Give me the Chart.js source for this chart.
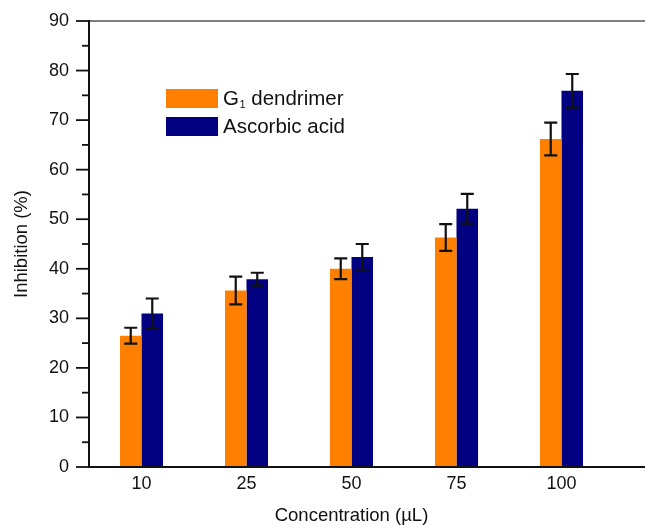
<!DOCTYPE html>
<html>
<head>
<meta charset="utf-8">
<script src="https://cdn.jsdelivr.net/npm/chart.js@4"></script>
<style>
  html, body { margin: 0; padding: 0; background: #fff; }
  #wrap { width: 645px; height: 525px; }
</style>
</head>
<body>
<div id="wrap"><canvas id="inhibitionChart" width="645" height="525"></canvas></div>
<script>
const concentrations = ['10', '25', '50', '75', '100'];
const dendrimerValues = [26.5, 35.6, 40.0, 46.3, 66.2];
const dendrimerErrors = [1.6, 2.8, 2.1, 2.7, 3.3];
const ascorbicValues = [31.0, 37.9, 42.4, 52.1, 75.9];
const ascorbicErrors = [3.0, 1.3, 2.6, 3.0, 3.4];
const yTicks = [0, 10, 20, 30, 40, 50, 60, 70, 80, 90];

const FONT = "'Liberation Sans', Arial, sans-serif";

// Error bars drawn on top of the bars
const errorBars = {
    id: 'errorBars',
    afterDatasetsDraw(chart) {
        const ctx = chart.ctx;
        const y = chart.scales.y;
        ctx.save();
        ctx.strokeStyle = '#111';
        ctx.lineWidth = 2.2;
        chart.data.datasets.forEach((ds, i) => {
            const meta = chart.getDatasetMeta(i);
            meta.data.forEach((bar, j) => {
                const v = ds.data[j], e = ds.errors[j];
                const top = y.getPixelForValue(v + e);
                const bot = y.getPixelForValue(v - e);
                ctx.beginPath();
                ctx.moveTo(bar.x, top); ctx.lineTo(bar.x, bot);
                ctx.moveTo(bar.x - 6.5, top); ctx.lineTo(bar.x + 6.5, top);
                ctx.moveTo(bar.x - 6.5, bot); ctx.lineTo(bar.x + 6.5, bot);
                ctx.stroke();
            });
        });
        ctx.restore();
    }
};

// Axis lines, minor ticks, top frame and the legend box
const frame = {
    id: 'frame',
    afterDraw(chart) {
        const ctx = chart.ctx;
        const area = chart.chartArea;
        const y = chart.scales.y;
        const w = chart.width;
        ctx.save();
        // top frame line runs to the edge
        ctx.strokeStyle = '#555';
        ctx.lineWidth = 1.5;
        ctx.beginPath();
        ctx.moveTo(area.left, area.top); ctx.lineTo(w, area.top);
        ctx.stroke();
        // y axis and x axis
        ctx.strokeStyle = '#111';
        ctx.lineWidth = 2;
        ctx.beginPath();
        ctx.moveTo(area.left, area.top - 1); ctx.lineTo(area.left, area.bottom);
        ctx.lineTo(w, area.bottom);
        ctx.stroke();
        // ticks, every 5 with long ones every 10
        ctx.lineWidth = 1.8;
        for (let v = 0; v <= 90; v += 5) {
            const py = y.getPixelForValue(v);
            const len = v % 10 === 0 ? 13 : 7;
            ctx.beginPath();
            ctx.moveTo(area.left - len, py); ctx.lineTo(area.left, py);
            ctx.stroke();
        }
        // legend
        const items = [
            { color: chart.data.datasets[0].backgroundColor, main: 'G', sub: '1', rest: ' dendrimer' },
            { color: chart.data.datasets[1].backgroundColor, main: 'Ascorbic acid', sub: '', rest: '' }
        ];
        ctx.textBaseline = 'middle';
        items.forEach((it, i) => {
            const top = 89 + i * 28;
            ctx.fillStyle = it.color;
            ctx.fillRect(166, top, 52, 19);
            ctx.fillStyle = '#111';
            ctx.font = '20.5px ' + FONT;
            let x = 223;
            const cy = top + 10;
            ctx.fillText(it.main, x, cy);
            x += ctx.measureText(it.main).width;
            if (it.sub) {
                ctx.font = '11px ' + FONT;
                ctx.fillText(it.sub, x + 0.5, cy + 6);
                x += ctx.measureText(it.sub).width + 0.5;
                ctx.font = '20.5px ' + FONT;
                ctx.fillText(it.rest, x, cy);
            }
        });
        ctx.restore();
    }
};

new Chart(document.getElementById('inhibitionChart').getContext('2d'), {
    type: 'bar',
    data: {
        labels: concentrations,
        datasets: [
            {
                label: 'G1 dendrimer',
                data: dendrimerValues,
                errors: dendrimerErrors,
                backgroundColor: '#ff8000',
                barPercentage: 1,
                categoryPercentage: 0.41
            },
            {
                label: 'Ascorbic acid',
                data: ascorbicValues,
                errors: ascorbicErrors,
                backgroundColor: '#000080',
                barPercentage: 1,
                categoryPercentage: 0.41
            }
        ]
    },
    options: {
        responsive: false,
        animation: false,
        layout: { padding: { top: 21, right: 31, left: 0, bottom: 0 } },
        plugins: {
            legend: { display: false },
            tooltip: { enabled: false }
        },
        scales: {
            x: {
                grid: { display: false, drawTicks: false },
                border: { display: false },
                ticks: { color: '#111', font: { family: FONT, size: 18 }, padding: 6 },
                title: {
                    display: true,
                    text: 'Concentration (µL)',
                    color: '#111',
                    font: { family: FONT, size: 18.5, lineHeight: 1 },
                    padding: { top: 0, bottom: 0 }
                },
                afterFit(scale) {
                    scale.height = 58;
                    scale.paddingLeft = 0;
                    scale.paddingRight = 0;
                }
            },
            y: {
                min: 0,
                max: 90,
                afterBuildTicks(scale) { scale.ticks = yTicks.map(v => ({ value: v })); },
                grid: { display: false, drawTicks: false },
                border: { display: false },
                ticks: { color: '#111', font: { family: FONT, size: 18 }, padding: 20 },
                title: {
                    display: true,
                    text: 'Inhibition (%)',
                    color: '#111',
                    font: { family: FONT, size: 18.5, lineHeight: 1.2 },
                    padding: { top: 11, bottom: 0 }
                },
                afterFit(scale) {
                    scale.width = 89;
                    scale.paddingTop = 0;
                    scale.paddingBottom = 0;
                }
            }
        }
    },
    plugins: [errorBars, frame]
});
</script>
</body>
</html>
